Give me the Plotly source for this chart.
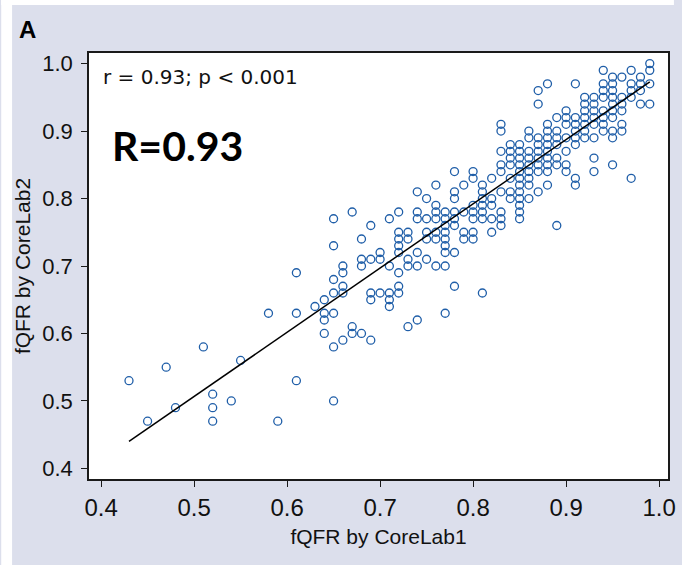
import plotly.graph_objects as go

# fQFR measured by the two core laboratories, one line per CoreLab1 value
corelab1 = (
    [0.43] + [0.45] + [0.47] + [0.48] + [0.51] + [0.52] * 3 + [0.54] + [0.55]
    + [0.58] + [0.59] + [0.61] * 3 + [0.63] + [0.64] * 4 + [0.65] * 7
    + [0.66] * 5 + [0.67] * 3 + [0.68] * 4 + [0.69] * 5 + [0.70] * 3
    + [0.71] * 5 + [0.72] * 8 + [0.73] * 5 + [0.74] * 6 + [0.75] * 5
    + [0.76] * 7 + [0.77] * 9 + [0.78] * 8 + [0.79] * 4 + [0.80] * 7
    + [0.81] * 7 + [0.82] * 5 + [0.83] * 9 + [0.84] * 7 + [0.85] * 12
    + [0.86] * 9 + [0.87] * 9 + [0.88] * 10 + [0.89] * 7 + [0.90] * 7
    + [0.91] * 8 + [0.92] * 7 + [0.93] * 8 + [0.94] * 8 + [0.95] * 10
    + [0.96] * 6 + [0.97] * 5 + [0.98] * 4 + [0.99] * 4
)
corelab2 = [
    0.53, 0.47, 0.55, 0.49, 0.58, 0.51, 0.49, 0.47, 0.50, 0.56,
    0.63, 0.47, 0.69, 0.63, 0.53, 0.64, 0.65, 0.63, 0.62, 0.60,
    0.77, 0.73, 0.68, 0.66, 0.63, 0.58, 0.50,
    0.70, 0.69, 0.67, 0.66, 0.59,
    0.78, 0.61, 0.60,
    0.74, 0.71, 0.70, 0.60,
    0.76, 0.71, 0.66, 0.65, 0.59,
    0.72, 0.71, 0.66,
    0.77, 0.70, 0.66, 0.65, 0.64,
    0.78, 0.75, 0.74, 0.73, 0.72, 0.69, 0.67, 0.66,
    0.75, 0.74, 0.71, 0.70, 0.61,
    0.81, 0.78, 0.77, 0.72, 0.70, 0.62,
    0.80, 0.77, 0.75, 0.74, 0.71,
    0.82, 0.79, 0.78, 0.77, 0.75, 0.74, 0.70,
    0.78, 0.77, 0.76, 0.75, 0.74, 0.73, 0.72, 0.70, 0.63,
    0.84, 0.81, 0.80, 0.78, 0.77, 0.76, 0.72, 0.67,
    0.82, 0.78, 0.75, 0.74,
    0.84, 0.83, 0.79, 0.78, 0.77, 0.75, 0.74,
    0.82, 0.81, 0.80, 0.79, 0.78, 0.77, 0.66,
    0.83, 0.80, 0.79, 0.77, 0.75,
    0.91, 0.90, 0.87, 0.85, 0.84, 0.81, 0.78, 0.77, 0.76,
    0.88, 0.87, 0.86, 0.85, 0.83, 0.81, 0.80,
    0.88, 0.87, 0.86, 0.85, 0.84, 0.83, 0.82, 0.81, 0.80, 0.79, 0.78, 0.77,
    0.90, 0.89, 0.87, 0.86, 0.85, 0.84, 0.83, 0.82, 0.80,
    0.96, 0.94, 0.89, 0.88, 0.87, 0.86, 0.85, 0.84, 0.81,
    0.97, 0.91, 0.90, 0.89, 0.88, 0.87, 0.86, 0.85, 0.84, 0.82,
    0.92, 0.90, 0.89, 0.88, 0.86, 0.85, 0.76,
    0.93, 0.92, 0.91, 0.89, 0.87, 0.85, 0.84,
    0.97, 0.92, 0.91, 0.90, 0.89, 0.88, 0.83, 0.82,
    0.95, 0.94, 0.93, 0.92, 0.91, 0.90, 0.89,
    0.95, 0.94, 0.93, 0.92, 0.91, 0.89, 0.86, 0.84,
    0.99, 0.97, 0.96, 0.95, 0.93, 0.92, 0.91, 0.90,
    0.98, 0.97, 0.96, 0.95, 0.94, 0.93, 0.92, 0.90, 0.89, 0.85,
    0.98, 0.95, 0.94, 0.93, 0.91, 0.90,
    0.99, 0.97, 0.96, 0.95, 0.83,
    0.98, 0.97, 0.96, 0.94,
    1.00, 0.99, 0.97, 0.94,
]

# Least-squares line endpoints
fit_x = [0.43, 0.99]
fit_y = [0.44, 0.973]

tick_vals = [0.4, 0.5, 0.6, 0.7, 0.8, 0.9, 1.0]
tick_text = ["0.4", "0.5", "0.6", "0.7", "0.8", "0.9", "1.0"]

W, H = 682, 565
ML, MR, MT, MB = 89, 6, 53, 86
PW, PH = W - ML - MR, H - MT - MB


def px_x(p):
    return (p - ML) / PW


def px_y(p):
    return (H - MB - p) / PH


SANS = "Liberation Sans, Arial, sans-serif"
BLUE = "#1f5ea8"
LAVENDER = "#dcdfec"

fig = go.Figure()
fig.add_trace(go.Scatter(
    x=corelab1, y=corelab2, mode="markers",
    marker=dict(symbol="circle-open", size=8, color=BLUE, line=dict(width=1.3, color=BLUE)),
    showlegend=False, hoverinfo="x+y",
))
fig.add_trace(go.Scatter(
    x=fit_x, y=fit_y, mode="lines",
    line=dict(color="black", width=1.5), showlegend=False, hoverinfo="skip",
))

axis_common = dict(
    showgrid=False, zeroline=False, showline=True, mirror=True,
    linecolor="#1a1a1a", linewidth=1.5,
    ticks="outside", ticklen=6, tickwidth=1.3, tickcolor="#1a1a1a",
    tickvals=tick_vals, ticktext=tick_text,
    title_font=dict(family=SANS, size=21, color="#111111"),
)

fig.update_layout(
    width=W, height=H,
    margin=dict(l=ML, r=MR, t=MT, b=MB, pad=0),
    paper_bgcolor=LAVENDER, plot_bgcolor="white",
    xaxis=dict(range=[0.387, 1.0096], title=dict(text="fQFR by CoreLab1", standoff=10),
               tickfont=dict(family=SANS, size=24, color="#111111"), **axis_common),
    yaxis=dict(range=[0.3843, 1.0157], title=dict(text="fQFR by CoreLab2", standoff=6),
               tickfont=dict(family=SANS, size=22, color="#111111"),
               ticklabelstandoff=4, **axis_common),
    shapes=[
        dict(type="rect", xref="paper", yref="paper", layer="below", line_width=0,
             fillcolor="white", x0=px_x(0), x1=px_x(11), y0=px_y(H), y1=px_y(0)),
        dict(type="rect", xref="paper", yref="paper", layer="below", line_width=0,
             fillcolor="white", x0=px_x(0), x1=px_x(W), y0=px_y(5), y1=px_y(0)),
    ],
    annotations=[
        dict(text="<b>A</b>", xref="paper", yref="paper", x=px_x(16), y=px_y(29),
             xanchor="left", yanchor="middle", showarrow=False,
             font=dict(family=SANS, size=24, color="black")),
        dict(text="r = 0.93; p < 0.001", xref="x", yref="y", x=0.4, y=0.98,
             xanchor="left", yanchor="middle", showarrow=False,
             font=dict(family="DejaVu Sans, sans-serif", size=20, color="#111111")),
        dict(text="<b>R=0.93</b>", xref="x", yref="y", x=0.41, y=0.879,
             xanchor="left", yanchor="middle", showarrow=False,
             font=dict(family="Lato, Open Sans, sans-serif", size=41, color="black")),
    ],
)

fig.write_html("out.html")
